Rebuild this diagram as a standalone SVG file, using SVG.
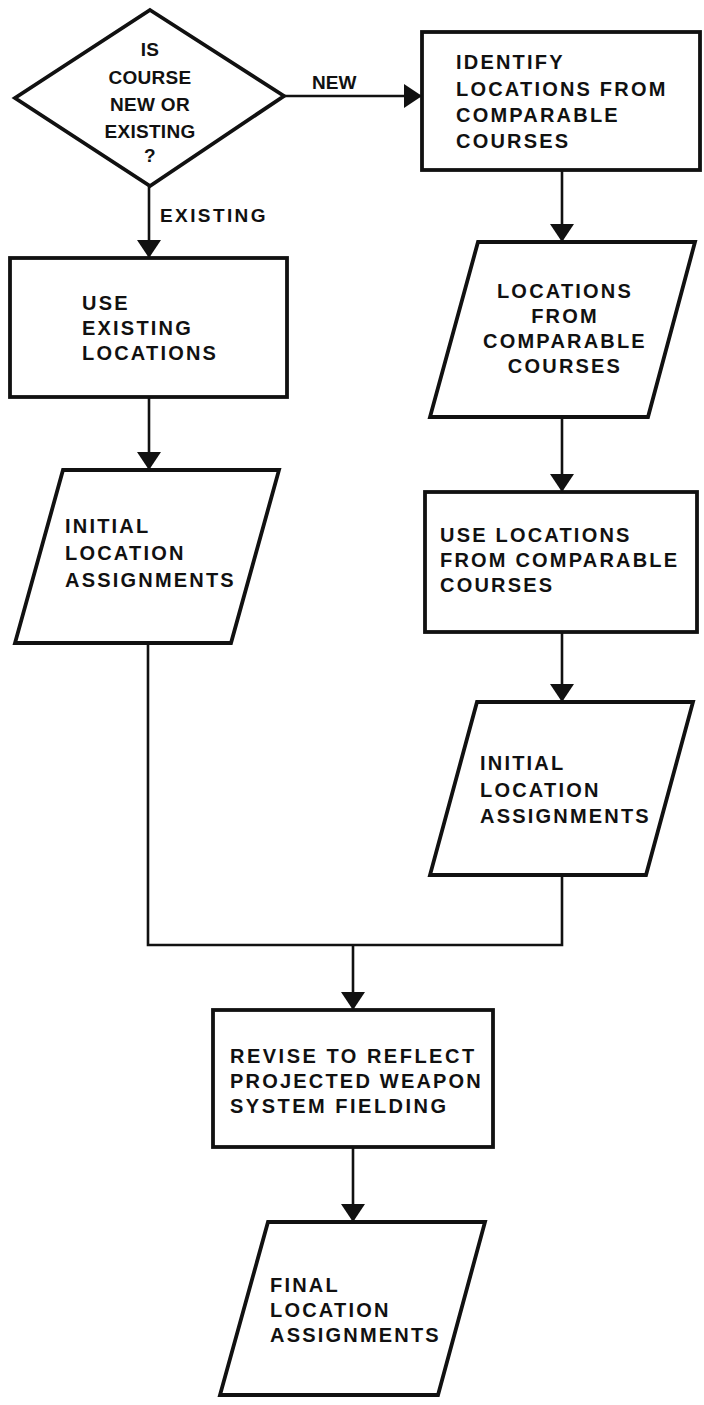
<svg xmlns="http://www.w3.org/2000/svg" width="704" height="1405" viewBox="0 0 704 1405">
  <style>
    .shape { fill: #ffffff; stroke: #111111; stroke-width: 3.8; stroke-linejoin: miter; }
    .wire { fill: none; stroke: #111111; stroke-width: 2.6; }
    .lbl { font-family: "Liberation Sans", Arial, sans-serif; font-weight: bold; font-size: 20px; letter-spacing: 2.2px; fill: #111111; }
    .dlbl { font-family: "Liberation Sans", Arial, sans-serif; font-weight: bold; font-size: 19px; letter-spacing: 0.3px; fill: #111111; text-anchor: middle; }
    .elbl { font-family: "Liberation Sans", Arial, sans-serif; font-weight: bold; font-size: 19px; fill: #111111; }
    .mid { text-anchor: middle; }
  </style>
  <defs>
    <marker id="arrow" viewBox="0 0 18 24" refX="18" refY="12" markerWidth="18" markerHeight="24" markerUnits="userSpaceOnUse" orient="auto">
      <path d="M0,0 L18,12 L0,24 Z" fill="#111111"/>
    </marker>
  </defs>
  <rect width="704" height="1405" fill="#ffffff"/>

  <!-- connectors and their labels -->
  <g id="connectors">
    <line class="wire" x1="284" y1="96" x2="422" y2="96" marker-end="url(#arrow)"/>
    <text class="elbl" x="312" y="89">NEW</text>
    <line class="wire" x1="149" y1="186" x2="149" y2="258" marker-end="url(#arrow)"/>
    <text class="elbl" x="160" y="222" style="letter-spacing:2.4px">EXISTING</text>
    <line class="wire" x1="149" y1="397" x2="149" y2="470" marker-end="url(#arrow)"/>
    <line class="wire" x1="562" y1="170" x2="562" y2="242" marker-end="url(#arrow)"/>
    <line class="wire" x1="562" y1="417" x2="562" y2="492" marker-end="url(#arrow)"/>
    <line class="wire" x1="562" y1="632" x2="562" y2="702" marker-end="url(#arrow)"/>
    <polyline class="wire" points="148,643 148,945 562,945 562,875"/>
    <line class="wire" x1="353" y1="945" x2="353" y2="1010" marker-end="url(#arrow)"/>
    <line class="wire" x1="353" y1="1147" x2="353" y2="1222" marker-end="url(#arrow)"/>
  </g>

  <!-- decision: new or existing course -->
  <g id="decision">
    <polygon class="shape" points="150,10 284,96 150,186 15,98"/>
    <text class="dlbl" x="150" y="56">IS</text>
    <text class="dlbl" x="150" y="84">COURSE</text>
    <text class="dlbl" x="150" y="111">NEW OR</text>
    <text class="dlbl" x="150" y="138">EXISTING</text>
    <text class="dlbl" x="150" y="162">?</text>
  </g>

  <g id="identify">
    <rect class="shape" x="422" y="32" width="278" height="138"/>
    <text class="lbl" x="456" y="69">IDENTIFY</text>
    <text class="lbl" x="456" y="96">LOCATIONS FROM</text>
    <text class="lbl" x="456" y="122">COMPARABLE</text>
    <text class="lbl" x="456" y="148">COURSES</text>
  </g>

  <g id="use-existing">
    <rect class="shape" x="10" y="258" width="277" height="139"/>
    <text class="lbl" x="82" y="310">USE</text>
    <text class="lbl" x="82" y="335">EXISTING</text>
    <text class="lbl" x="82" y="360">LOCATIONS</text>
  </g>

  <g id="comparable-locations">
    <polygon class="shape" points="478,242 695,242 648,417 430,417"/>
    <text class="lbl mid" x="565" y="298">LOCATIONS</text>
    <text class="lbl mid" x="565" y="323">FROM</text>
    <text class="lbl mid" x="565" y="348">COMPARABLE</text>
    <text class="lbl mid" x="565" y="373">COURSES</text>
  </g>

  <g id="initial-left">
    <polygon class="shape" points="63,470 279,470 231,643 15,643"/>
    <text class="lbl" x="65" y="533">INITIAL</text>
    <text class="lbl" x="65" y="560">LOCATION</text>
    <text class="lbl" x="65" y="587">ASSIGNMENTS</text>
  </g>

  <g id="use-comparable">
    <rect class="shape" x="425" y="492" width="272" height="140"/>
    <text class="lbl" x="440" y="542">USE LOCATIONS</text>
    <text class="lbl" x="440" y="567">FROM COMPARABLE</text>
    <text class="lbl" x="440" y="592">COURSES</text>
  </g>

  <g id="initial-right">
    <polygon class="shape" points="477,702 693,702 646,875 430,875"/>
    <text class="lbl" x="480" y="770">INITIAL</text>
    <text class="lbl" x="480" y="797">LOCATION</text>
    <text class="lbl" x="480" y="823">ASSIGNMENTS</text>
  </g>

  <g id="revise">
    <rect class="shape" x="213" y="1010" width="280" height="137"/>
    <text class="lbl" x="230" y="1063" style="letter-spacing:2.5px">REVISE TO REFLECT</text>
    <text class="lbl" x="230" y="1088">PROJECTED WEAPON</text>
    <text class="lbl" x="230" y="1113" style="letter-spacing:2.5px">SYSTEM FIELDING</text>
  </g>

  <g id="final">
    <polygon class="shape" points="268,1222 485,1222 438,1395 220,1395"/>
    <text class="lbl" x="270" y="1292">FINAL</text>
    <text class="lbl" x="270" y="1317">LOCATION</text>
    <text class="lbl" x="270" y="1342">ASSIGNMENTS</text>
  </g>
</svg>
